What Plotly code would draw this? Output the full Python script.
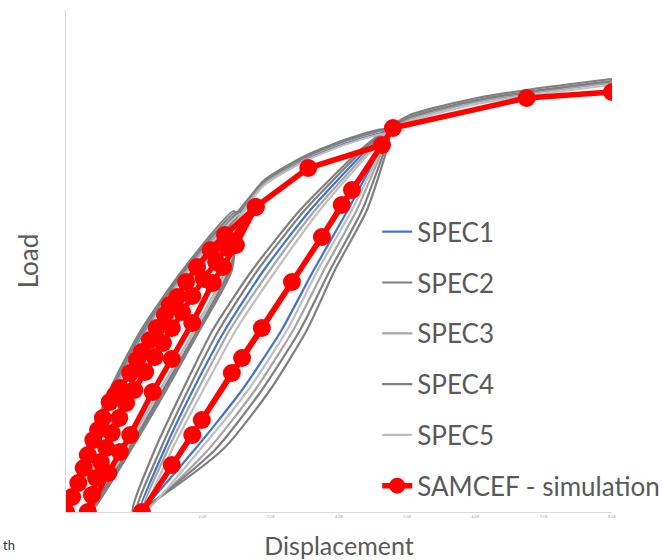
import plotly.graph_objects as go

# ---------------- data ----------------
# SPEC1 (blue)
spec1_disp = [0, 0.37, 0.72, 1.17, 1.79, 2.53,
              2.39, 1.93, 1.42, 0.91, 0.32,
              0.56, 0.91, 1.35, 1.88, 2.49,
              2.89, 3.53, 4.16, 4.67,
              4.40, 3.58, 2.90, 2.33, 1.86, 1.44, 1.07,
              1.88, 2.58, 3.16, 3.63, 4.13, 4.60, 4.79,
              5.04, 5.88, 6.84, 8.0]
spec1_load = [0, 12.4, 24.4, 36.4, 48.4, 59.8,
              48.4, 36.4, 24.4, 12.4, 0,
              12.4, 24.4, 36.4, 48.4, 59.4,
              65.4, 70.6, 74.0, 75.8,
              72.4, 60.4, 48.4, 36.4, 24.4, 12.4, 0,
              12.4, 24.4, 36.4, 48.4, 60.4, 72.4, 76.8,
              78.8, 81.8, 84.0, 86.0]

# SPEC2
spec2_disp = [0, 0.29, 0.64, 1.10, 1.71, 2.46,
              2.43, 1.96, 1.47, 0.95, 0.37,
              0.59, 0.94, 1.38, 1.90, 2.52,
              2.89, 3.53, 4.16, 4.67,
              4.31, 3.43, 2.73, 2.15, 1.71, 1.30, 0.98,
              2.29, 2.99, 3.53, 3.94, 4.41, 4.70, 4.79,
              5.04, 5.88, 6.84, 8.0]
spec2_load = [0, 12.4, 24.4, 36.4, 48.4, 60.2,
              48.4, 36.4, 24.4, 12.4, 0,
              12.4, 24.4, 36.4, 48.4, 59.4,
              66.2, 71.4, 74.8, 76.6,
              72.4, 60.4, 48.4, 36.4, 24.4, 12.4, 0,
              12.4, 24.4, 36.4, 48.4, 60.4, 72.4, 77.2,
              79.4, 82.4, 84.6, 86.6]

# SPEC3
spec3_disp = [0, 0.34, 0.69, 1.14, 1.76, 2.51,
              2.34, 1.88, 1.38, 0.86, 0.28,
              0.63, 0.98, 1.42, 1.95, 2.56,
              2.89, 3.53, 4.16, 4.67,
              4.44, 3.65, 2.99, 2.40, 1.93, 1.49, 1.11,
              2.08, 2.77, 3.33, 3.78, 4.26, 4.64, 4.79,
              5.04, 5.88, 6.84, 8.0]
spec3_load = [0, 12.4, 24.4, 36.4, 48.4, 59.8,
              48.4, 36.4, 24.4, 12.4, 0,
              12.4, 24.4, 36.4, 48.4, 59.4,
              65.8, 71.0, 74.4, 76.2,
              72.4, 60.4, 48.4, 36.4, 24.4, 12.4, 0,
              12.4, 24.4, 36.4, 48.4, 60.4, 72.4, 76.8,
              78.6, 81.6, 83.8, 85.8]

# SPEC4
spec4_disp = [0, 0.32, 0.67, 1.13, 1.74, 2.49,
              2.40, 1.93, 1.44, 0.92, 0.34,
              0.54, 0.89, 1.33, 1.86, 2.48,
              2.89, 3.53, 4.16, 4.67,
              4.35, 3.50, 2.81, 2.24, 1.79, 1.38, 1.03,
              2.18, 2.87, 3.43, 3.87, 4.34, 4.67, 4.79,
              5.04, 5.88, 6.84, 8.0]
spec4_load = [0, 12.4, 24.4, 36.4, 48.4, 60.0,
              48.4, 36.4, 24.4, 12.4, 0,
              12.4, 24.4, 36.4, 48.4, 59.4,
              66.0, 71.2, 74.6, 76.4,
              72.4, 60.4, 48.4, 36.4, 24.4, 12.4, 0,
              12.4, 24.4, 36.4, 48.4, 60.4, 72.4, 77.0,
              79.0, 82.0, 84.2, 86.2]

# SPEC5
spec5_disp = [0, 0.38, 0.73, 1.19, 1.80, 2.55,
              2.36, 1.89, 1.39, 0.88, 0.29,
              0.62, 0.97, 1.41, 1.93, 2.55,
              2.89, 3.53, 4.16, 4.67,
              4.48, 3.72, 3.08, 2.49, 2.01, 1.55, 1.16,
              1.96, 2.67, 3.24, 3.69, 4.19, 4.62, 4.79,
              5.04, 5.88, 6.84, 8.0]
spec5_load = [0, 12.4, 24.4, 36.4, 48.4, 59.6,
              48.4, 36.4, 24.4, 12.4, 0,
              12.4, 24.4, 36.4, 48.4, 59.0,
              65.2, 70.4, 73.8, 75.6,
              72.4, 60.4, 48.4, 36.4, 24.4, 12.4, 0,
              12.4, 24.4, 36.4, 48.4, 60.4, 72.4, 76.6,
              78.2, 81.2, 83.4, 85.4]

# SAMCEF - simulation
sim_disp = [0, 0.09, 0.18, 0.26, 0.32, 0.40, 0.47, 0.54, 0.64, 0.72, 0.79, 0.94,
            1.04, 1.11, 1.23, 1.33, 1.45, 1.52, 1.63, 1.76, 1.92, 2.12, 2.33, 2.78,
            2.49, 2.30, 2.15, 1.85, 1.55, 1.27, 0.94, 0.79, 0.62, 0.32,
            0.38, 0.44, 0.51, 0.59, 0.67, 0.78, 0.88, 1.00, 1.16, 1.30, 1.42, 1.55,
            1.70, 1.85, 2.02, 2.20, 2.37, 2.78, 3.55, 4.63,
            4.19, 4.04, 3.75, 3.31, 2.87, 2.58, 2.43, 1.99, 1.85, 1.55, 1.11,
            4.79, 6.75, 8.0]
sim_load = [0, 3.0, 5.8, 8.8, 11.4, 14.4, 16.4, 18.8, 22.0, 23.4, 24.8, 27.8,
            30.4, 32.0, 34.4, 36.8, 39.4, 41.4, 43.0, 46.0, 49.0, 52.4, 55.4, 61.0,
            53.4, 49.0, 45.8, 37.8, 30.6, 24.0, 15.4, 12.0, 7.8, 0,
            3.4, 6.8, 10.0, 12.8, 15.8, 18.8, 21.8, 24.4, 28.0, 31.0, 33.8, 36.8,
            40.0, 43.2, 46.6, 50.0, 52.8, 61.0, 68.8, 73.4,
            64.4, 61.4, 55.0, 46.0, 36.8, 30.8, 27.8, 18.4, 15.4, 9.4, 0,
            76.8, 82.8, 84.0]

x_tick_vals = [2, 3, 4, 5, 6, 7, 8]
x_tick_text = ["2,0E", "3,0E", "4,0E", "5,0E", "6,0E", "7,0E", "8,0E"]

# ---------------- figure ----------------
FONT = "Lato, 'Open Sans', sans-serif"
TXT = "#595959"

fig = go.Figure()

specs = [
    ("SPEC1", spec1_disp, spec1_load, "#4472C4"),
    ("SPEC2", spec2_disp, spec2_load, "#7F7F7F"),
    ("SPEC3", spec3_disp, spec3_load, "#A5A5A5"),
    ("SPEC4", spec4_disp, spec4_load, "#7F7F7F"),
    ("SPEC5", spec5_disp, spec5_load, "#BFBFBF"),
]
for name, xs, ys, col in specs:
    fig.add_trace(go.Scatter(
        x=xs, y=ys, name=name, mode="lines", legendgroup=name,
        line=dict(color=col, width=2.2, shape="spline", smoothing=0.6),
        hoverinfo="skip",
    ))

fig.add_trace(go.Scatter(
    x=sim_disp, y=sim_load, name="SAMCEF - simulation", mode="lines+markers",
    legendgroup="sim",
    line=dict(color="#FF0000", width=5.5),
    marker=dict(color="#FF0000", size=18),
    hoverinfo="skip",
))

fig.update_layout(
    width=663, height=560,
    margin=dict(l=66, r=51, t=10, b=48, autoexpand=False),
    paper_bgcolor="white", plot_bgcolor="white",
    font=dict(family=FONT, color=TXT),
    showlegend=True,
    legend=dict(
        x=0.570, xanchor="left", y=0.605, yanchor="top",
        font=dict(family=FONT, size=26, color=TXT),
        bgcolor="rgba(0,0,0,0)", tracegroupgap=14,
        itemsizing="trace",
    ),
    xaxis=dict(
        range=[0, 8.0], showgrid=False, zeroline=False, automargin=False,
        showline=True, linecolor="#D9D9D9", linewidth=1,
        tickvals=x_tick_vals, ticktext=x_tick_text,
        tickfont=dict(size=4, color="#A6A6A6"), ticks="",
        title=dict(text="Displacement", font=dict(family=FONT, size=25, color=TXT), standoff=20),
    ),
    yaxis=dict(
        range=[0, 100.4], showgrid=False, zeroline=False, automargin=False,
        showline=True, linecolor="#D9D9D9", linewidth=1,
        showticklabels=False, ticks="",
        title=dict(text="Load", font=dict(family=FONT, size=26, color=TXT), standoff=18),
    ),
    annotations=[dict(
        text="th", xref="paper", yref="paper", x=-0.119, y=-0.066,
        xanchor="left", yanchor="middle", showarrow=False,
        font=dict(family=FONT, size=13, color="#333333"),
    )],
)

fig.write_html(
    "out.html",
    config={"displayModeBar": False},
    post_script="document.body.style.margin='0';document.body.style.padding='0';",
)
